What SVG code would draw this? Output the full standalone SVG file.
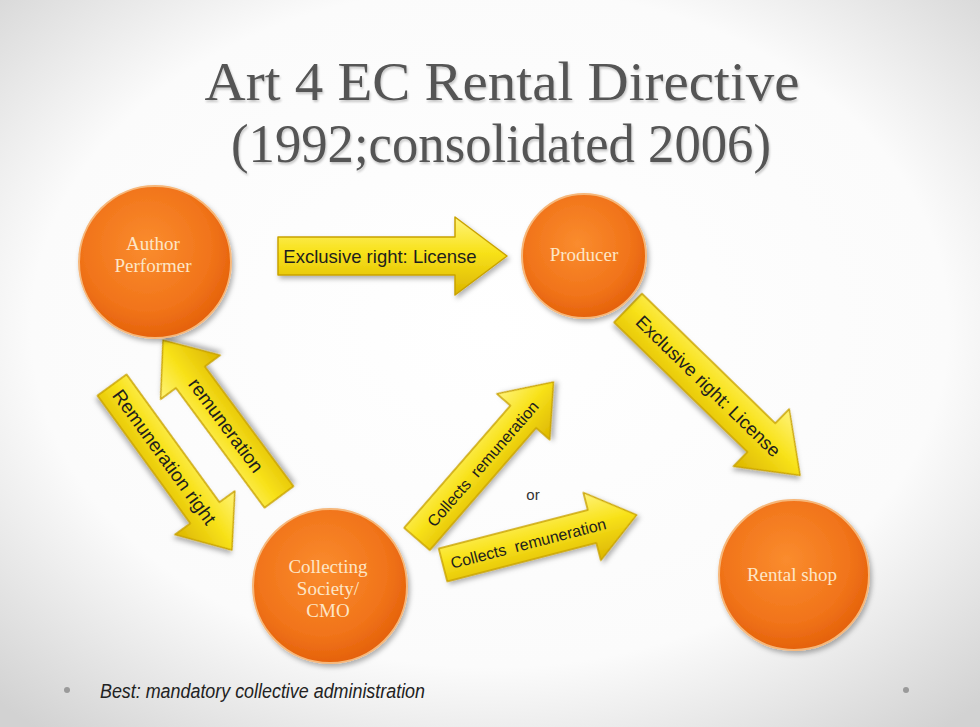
<svg xmlns="http://www.w3.org/2000/svg" width="980" height="727" viewBox="0 0 980 727">
<defs>
  <radialGradient id="bg" cx="50%" cy="45%" r="72%">
    <stop offset="0" stop-color="#ffffff"/>
    <stop offset="0.65" stop-color="#fbfbfb"/>
    <stop offset="1" stop-color="#d2d2d2"/>
  </radialGradient>
  <radialGradient id="orb" cx="45%" cy="40%" r="60%">
    <stop offset="0" stop-color="#fa8c2e"/>
    <stop offset="0.7" stop-color="#f1741a"/>
    <stop offset="1" stop-color="#e5620b"/>
  </radialGradient>
  <linearGradient id="yel" x1="0" y1="0" x2="0" y2="1">
    <stop offset="0" stop-color="#fff37a"/>
    <stop offset="0.45" stop-color="#f8e21a"/>
    <stop offset="1" stop-color="#dcb600"/>
  </linearGradient>
  <filter id="sh" x="-20%" y="-20%" width="140%" height="140%">
    <feDropShadow dx="2" dy="3" stdDeviation="2.5" flood-color="#000" flood-opacity="0.3"/>
  </filter>
  <filter id="tsh" x="-5%" y="-20%" width="110%" height="140%">
    <feDropShadow dx="1" dy="2" stdDeviation="1.2" flood-color="#000" flood-opacity="0.22"/>
  </filter>
</defs>
<style>
  .title{font-family:"Liberation Serif","DejaVu Serif",serif;font-size:55px;fill:#555555;text-anchor:middle}
  .orb{fill:url(#orb);stroke:#f6b77a;stroke-width:2;filter:url(#sh)}
  .ot{font-family:"Liberation Serif","DejaVu Serif",serif;font-size:19px;fill:#fde6c6;text-anchor:middle}
  .arr{fill:url(#yel);stroke:#c9a200;stroke-width:1.5;stroke-linejoin:round;filter:url(#sh)}
  .at{font-family:"Liberation Sans",Arial,sans-serif;fill:#1e1e1e;text-anchor:middle}
  .foot{font-family:"Liberation Sans",Arial,sans-serif;font-size:20px;font-style:italic;fill:#222}
</style>
<rect width="980" height="727" fill="url(#bg)"/>

<g id="title" filter="url(#tsh)">
  <text class="title" x="502" y="100" textLength="595" lengthAdjust="spacingAndGlyphs">Art 4 EC Rental Directive</text>
  <text class="title" x="501" y="162" textLength="540" lengthAdjust="spacingAndGlyphs">(1992;consolidated 2006)</text>
</g>

<g id="connectors">
  <g id="a-license1" transform="translate(278,256)">
    <path class="arr" d="M0,-19 H177 V-39 L229,0 L177,39 V19 H0 Z"/>
    <text class="at" x="102" y="6.5" font-size="18.5">Exclusive right: License</text>
  </g>
  <g id="a-license2" transform="translate(628,308) rotate(44.2)">
    <path class="arr" d="M0,-20 H186 V-40 L240,0 L186,40 V20 H0 Z"/>
    <text class="at" x="112" y="6.5" font-size="18.5">Exclusive right: License</text>
  </g>
  <g id="a-remun" transform="translate(279,497) rotate(-126.5)">
    <path class="arr" d="M0,-18 H149 V-37 L195,0 L149,37 V18 H0 Z"/>
    <text class="at" x="89" y="6.5" font-size="19" transform="rotate(180 89 0)">remuneration</text>
  </g>
  <g id="a-remright" transform="translate(112,385) rotate(54)">
    <path class="arr" d="M0,-18 H158 V-37 L204,0 L158,37 V18 H0 Z"/>
    <text class="at" x="89" y="6.5" font-size="19">Remuneration right</text>
  </g>
  <g id="a-collect1" transform="translate(417,539) rotate(-49)">
    <path class="arr" d="M0,-17 H162 V-35 L208,0 L162,35 V17 H0 Z"/>
    <text class="at" x="100" y="6" font-size="16">Collects&#160; remuneration</text>
  </g>
  <g id="a-collect2" transform="translate(443,565) rotate(-14.5)">
    <path class="arr" d="M0,-17 H154 V-35 L200,0 L154,35 V17 H0 Z"/>
    <text class="at" x="88" y="6" font-size="16">Collects&#160; remuneration</text>
  </g>
  <text id="or" x="533" y="500" font-family="Liberation Sans,Arial,sans-serif" font-size="15" fill="#333" text-anchor="middle">or</text>
</g>

<g id="author">
  <circle class="orb" cx="155" cy="262" r="76"/>
  <text class="ot" x="153" y="250">Author</text>
  <text class="ot" x="153" y="272">Performer</text>
</g>
<g id="producer">
  <circle class="orb" cx="584" cy="256" r="62"/>
  <text class="ot" x="584" y="261">Producer</text>
</g>
<g id="cmo">
  <circle class="orb" cx="330" cy="586" r="77"/>
  <text class="ot" x="328" y="573">Collecting</text>
  <text class="ot" x="328" y="595">Society/</text>
  <text class="ot" x="328" y="617">CMO</text>
</g>
<g id="rental">
  <circle class="orb" cx="794" cy="575" r="75"/>
  <text class="ot" x="792" y="581">Rental shop</text>
</g>

<g id="footer">
  <circle cx="67" cy="690" r="3" fill="#9a9a9a"/>
  <text class="foot" x="100" y="698" textLength="325" lengthAdjust="spacingAndGlyphs">Best: mandatory collective administration</text>
  <circle cx="906" cy="690" r="3" fill="#9a9a9a"/>
</g>
</svg>
